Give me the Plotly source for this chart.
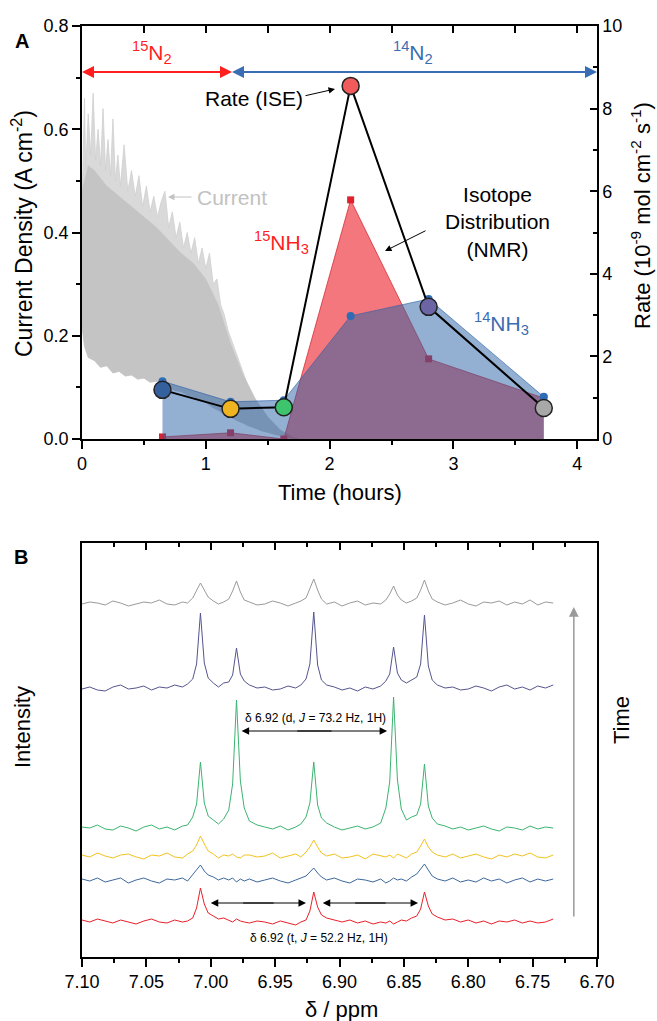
import plotly.graph_objects as go

W, H = 657, 1021
FONT = "Liberation Sans, Arial, Helvetica, sans-serif"

# ---------------- Panel A data ----------------
sample_time = [0.65, 1.20, 1.63, 2.17, 2.80, 3.73]          # hours
rate_ise = [1.19, 0.73, 0.77, 8.55, 3.20, 0.75]             # 1e-9 mol cm-2 s-1
rate_colors = ["#34619e", "#efb420", "#3ec46d", "#f25b5b", "#6b65a6", "#a8a8a8"]
nh3_14 = [1.40, 0.90, 0.94, 2.98, 3.39, 1.02]
nh3_15 = [0.05, 0.15, 0.00, 5.79, 1.94, 0.99]

# current density (A cm-2): spike envelope, dense body envelope, lower envelope
current_t_upper = [0.00, 0.02, 0.03, 0.05, 0.07, 0.09, 0.11, 0.13, 0.15, 0.17,
                   0.19, 0.21, 0.23, 0.25, 0.27, 0.29, 0.31, 0.34, 0.37, 0.40,
                   0.43, 0.46, 0.49, 0.52, 0.55, 0.58, 0.61, 0.64, 0.67, 0.70,
                   0.73, 0.76, 0.79, 0.82, 0.85, 0.88, 0.91, 0.94, 0.97, 1.00,
                   1.03, 1.06, 1.09, 1.12, 1.15, 1.18, 1.21, 1.24, 1.27, 1.30,
                   1.33, 1.36, 1.39, 1.42, 1.45, 1.48, 1.51, 1.54, 1.57, 1.60,
                   1.63, 1.66, 1.69, 1.72, 1.75]
current_upper = [0.45, 0.66, 0.52, 0.63, 0.55, 0.67, 0.54, 0.60, 0.53, 0.64,
                 0.52, 0.58, 0.51, 0.62, 0.50, 0.55, 0.49, 0.57, 0.48, 0.52,
                 0.47, 0.51, 0.45, 0.49, 0.44, 0.47, 0.43, 0.46, 0.48, 0.41,
                 0.44, 0.39, 0.42, 0.37, 0.40, 0.36, 0.39, 0.34, 0.37, 0.33,
                 0.36, 0.30, 0.31, 0.26, 0.24, 0.21, 0.19, 0.17, 0.15, 0.13,
                 0.11, 0.095, 0.08, 0.065, 0.055, 0.045, 0.038, 0.030, 0.022, 0.016,
                 0.011, 0.007, 0.004, 0.002, 0.0]
current_t_body = [0.00, 0.05, 0.10, 0.20, 0.30, 0.40, 0.50, 0.60, 0.70, 0.80,
                  0.90, 1.00, 1.10, 1.20, 1.30, 1.40, 1.50, 1.60, 1.70, 1.75]
current_body = [0.48, 0.53, 0.52, 0.49, 0.47, 0.45, 0.43, 0.41, 0.385, 0.36,
                0.34, 0.31, 0.26, 0.185, 0.125, 0.078, 0.043, 0.018, 0.004, 0.0]
current_t_lower = [1.75, 1.70, 1.65, 1.60, 1.55, 1.50, 1.45, 1.40, 1.35, 1.30,
                   1.25, 1.20, 1.15, 1.10, 1.05, 1.00, 0.95, 0.90, 0.85, 0.80,
                   0.75, 0.70, 0.65, 0.60, 0.55, 0.50, 0.45, 0.40, 0.35, 0.30,
                   0.25, 0.20, 0.15, 0.10, 0.05, 0.02, 0.00]
current_lower = [0.0, 0.002, 0.004, 0.007, 0.009, 0.013, 0.016, 0.021, 0.025, 0.031,
                 0.036, 0.043, 0.048, 0.056, 0.062, 0.071, 0.074, 0.082, 0.085, 0.092,
                 0.094, 0.101, 0.104, 0.112, 0.110, 0.118, 0.116, 0.124, 0.122, 0.131,
                 0.128, 0.142, 0.139, 0.152, 0.158, 0.180, 0.220]

# ---------------- Panel B data (intensity in arbitrary offset units) ----------------
ppm = [7.100, 7.094, 7.088, 7.082, 7.076, 7.070, 7.064, 7.058, 7.052, 7.046, 7.040, 7.034, 7.028, 7.022, 7.018,
       7.014, 7.011, 7.008, 7.005, 7.002,
       6.998, 6.994, 6.990,
       6.986, 6.983, 6.980, 6.977, 6.974,
       6.970, 6.964, 6.958, 6.952, 6.946, 6.940, 6.934, 6.930,
       6.926, 6.923, 6.920, 6.917, 6.914,
       6.910, 6.904, 6.898, 6.892, 6.886, 6.880, 6.874, 6.868,
       6.864, 6.861, 6.858, 6.855, 6.852,
       6.848, 6.844,
       6.840, 6.837, 6.834, 6.831, 6.828,
       6.824, 6.818, 6.812, 6.806, 6.800, 6.794, 6.788, 6.782, 6.776, 6.770, 6.764, 6.758, 6.752, 6.746, 6.740, 6.734]

spec_gray = [353, 355, 354, 352, 356, 354, 351, 353, 355, 354, 357, 353, 352, 355, 354,
             359, 366, 374, 367, 360,
             356, 353, 355,
             358, 366, 376, 365, 357,
             355, 352, 353, 356, 354, 351, 354, 356,
             359, 368, 378, 367, 358,
             353, 355, 351, 354, 356, 352, 354, 353,
             357, 363, 371, 362, 357,
             354, 356,
             359, 367, 377, 366, 358,
             355, 352, 354, 357, 353, 351, 355, 354, 356, 352, 355, 353, 357, 352, 355, 354]
spec_purple = [268, 270, 267, 266, 270, 272, 268, 269, 271, 267, 270, 269, 272, 270, 273,
               278, 293, 344, 294, 279,
               274, 270, 274,
               275, 282, 309, 283, 276,
               272, 269, 270, 267, 268, 271, 269, 272,
               278, 293, 345, 292, 277,
               272, 270, 267, 269, 266, 270, 268, 271,
               276, 283, 310, 284, 277,
               274, 277,
               280, 293, 342, 291, 277,
               272, 269, 270, 267, 268, 271, 269, 266, 270, 272, 268, 270, 267, 271, 269, 272]
spec_green = [130, 129, 132, 128, 127, 131, 129, 126, 130, 132, 128, 130, 127, 131, 132,
              140, 153, 195, 154, 141,
              137, 133, 138,
              147, 173, 257, 176, 149,
              136, 132, 130, 128, 131, 127, 130, 133,
              140, 154, 195, 152, 139,
              134, 130, 127, 129, 131, 128, 130, 134,
              149, 175, 260, 177, 148,
              137, 140,
              142, 153, 193, 151, 139,
              133, 131, 128, 130, 127, 129, 131, 128, 126, 130, 129, 127, 131, 128, 130, 129]
spec_yellow = [102, 100, 104, 101, 99, 102, 103, 100, 98, 102, 101, 104, 100, 99, 103,
               106, 112, 121, 113, 106,
               103, 99, 102,
               101, 103, 100, 99, 102,
               102, 100, 101, 104, 99, 101, 103, 100,
               105, 110, 117, 110, 104,
               101, 103, 99, 100, 102, 98, 103, 101,
               100, 102, 99, 103, 101,
               99, 103,
               105, 111, 118, 110, 105,
               102, 100, 103, 99, 101, 103, 100, 98, 102, 100, 103, 101, 104, 100, 99, 102]
spec_blue = [78, 76, 79, 75, 77, 79, 74, 77, 79, 76, 74, 78, 77, 79, 76,
             82, 87, 92, 86, 82,
             80, 77, 79,
             77, 79, 75, 78, 76,
             78, 75, 77, 79, 76, 74, 77, 79,
             81, 85, 89, 84, 80,
             77, 79, 76, 74, 78, 77, 75, 78,
             74, 76, 79, 77, 78,
             76, 80,
             83, 88, 93, 87, 81,
             78, 76, 79, 75, 77, 75, 79, 76, 78, 74, 77, 79, 75, 78, 76, 78]
spec_red = [37, 35, 38, 36, 34, 37, 35, 33, 36, 38, 35, 34, 37, 35, 36,
            39, 49, 69, 53, 44,
            41, 38, 39,
            37, 35, 38, 36, 35,
            34, 36, 35, 33, 36, 34, 32, 35,
            37, 46, 65, 50, 42,
            39, 37, 35, 37, 34, 36, 33, 35,
            34, 36, 33, 35, 37,
            36, 39,
            41, 48, 65, 51, 43,
            40, 37, 38, 35, 37, 34, 36, 33, 36, 35, 37, 34, 36, 34, 35, 38]
spectra = [(spec_gray, "#9a9a9a"), (spec_purple, "#55558f"), (spec_green, "#3cb371"),
           (spec_yellow, "#f2c21e"), (spec_blue, "#3d689e"), (spec_red, "#e8202a")]

fig = go.Figure()

# current density (left axis): light spikes, darker dense body
fig.add_trace(go.Scatter(x=current_t_upper + current_t_lower, y=current_upper + current_lower,
                         fill="toself", fillcolor="#d9d9d9", mode="lines",
                         line=dict(color="#cfcfcf", width=0.8),
                         xaxis="x", yaxis="y", hoverinfo="skip", showlegend=False))
fig.add_trace(go.Scatter(x=current_t_body + current_t_lower, y=current_body + current_lower,
                         fill="toself", fillcolor="#c4c4c4", mode="lines",
                         line=dict(color="#c4c4c4", width=0.5),
                         xaxis="x", yaxis="y", hoverinfo="skip", showlegend=False))
# 15NH3 area
fig.add_trace(go.Scatter(x=sample_time, y=nh3_15, fill="tozeroy",
                         fillcolor="rgba(235,35,45,0.62)", mode="lines+markers",
                         line=dict(color="rgba(210,30,40,0.7)", width=1),
                         marker=dict(symbol="square", size=7, color="#e0202c"),
                         xaxis="x", yaxis="y2", showlegend=False))
# 14NH3 area
fig.add_trace(go.Scatter(x=sample_time, y=nh3_14, fill="tozeroy",
                         fillcolor="rgba(40,95,165,0.5)", mode="lines+markers",
                         line=dict(color="rgba(40,95,165,0.6)", width=1),
                         marker=dict(symbol="circle", size=8, color="#2e6cb5"),
                         xaxis="x", yaxis="y2", showlegend=False))
# rate (ISE)
fig.add_trace(go.Scatter(x=sample_time, y=rate_ise, mode="lines+markers",
                         line=dict(color="black", width=2),
                         marker=dict(size=17, color=rate_colors, line=dict(color="#222222", width=1.5)),
                         xaxis="x", yaxis="y2", showlegend=False))

for vals, col in spectra:
    fig.add_trace(go.Scatter(x=ppm, y=vals, mode="lines", line=dict(color=col, width=1),
                             xaxis="x2", yaxis="y3", showlegend=False, hoverinfo="skip"))

# invisible carriers so the mirrored top axes are drawn
fig.add_trace(go.Scatter(x=sample_time, y=rate_ise, mode="markers", marker=dict(opacity=0),
                         xaxis="x3", yaxis="y", showlegend=False, hoverinfo="skip"))
fig.add_trace(go.Scatter(x=ppm, y=spec_red, mode="markers", marker=dict(opacity=0),
                         xaxis="x4", yaxis="y3", showlegend=False, hoverinfo="skip"))

xdom = [82 / W, 597 / W]
ax_common = dict(showline=True, linecolor="black", linewidth=1.5, showgrid=False, zeroline=False,
                 tickcolor="black", tickwidth=1.5, tickfont=dict(size=18, color="black", family=FONT))

fig.update_layout(
    width=W, height=H, margin=dict(l=0, r=0, t=0, b=0, autoexpand=False),
    paper_bgcolor="white", plot_bgcolor="white", font=dict(family=FONT, color="black"),
    xaxis=dict(domain=xdom, range=[0, 4.16], anchor="y", dtick=1, tick0=0, ticks="outside", ticklen=8,
               minor=dict(ticks="outside", ticklen=4, dtick=0.5, tickwidth=1.5, tickcolor="black"), **ax_common),
    xaxis3=dict(overlaying="x", anchor="y", side="top", range=[0, 4.16], dtick=1, tick0=0,
                ticks="inside", ticklen=7, showticklabels=False,
                minor=dict(ticks="inside", ticklen=7, dtick=0.5, tickwidth=1.5, tickcolor="black"), **ax_common),
    yaxis=dict(domain=[1 - 439 / H, 1 - 26 / H], range=[0, 0.8], anchor="x", dtick=0.2, tickformat=".1f",
               ticks="outside", ticklen=8,
               minor=dict(ticks="outside", ticklen=4, dtick=0.1, tickwidth=1.5, tickcolor="black"), **ax_common),
    yaxis2=dict(overlaying="y", anchor="x", side="right", range=[0, 10], dtick=2, ticks="inside", ticklen=7,
                minor=dict(ticks="inside", ticklen=4, dtick=1, tickwidth=1.5, tickcolor="black"), **ax_common),
    xaxis2=dict(domain=xdom, range=[7.10, 6.70], anchor="y3", dtick=0.05, tick0=6.70, tickformat=".2f",
                ticks="outside", ticklen=8,
                minor=dict(ticks="outside", ticklen=4, dtick=0.025, tickwidth=1.5, tickcolor="black"), **ax_common),
    xaxis4=dict(overlaying="x2", anchor="y3", side="top", range=[7.10, 6.70], dtick=0.05, tick0=6.70,
                ticks="inside", ticklen=7, showticklabels=False,
                minor=dict(ticks="inside", ticklen=4, dtick=0.025, tickwidth=1.5, tickcolor="black"), **ax_common),
    yaxis3=dict(domain=[1 - 957 / H, 1 - 543 / H], range=[0, 414], anchor="x2", ticks="",
                showticklabels=False, mirror=True, **ax_common),
)


def P(xp, yp):
    return dict(x=xp / W, y=1 - yp / H, xref="paper", yref="paper")


def txt(xp, yp, text, size=21, color="black", angle=0):
    d = P(xp, yp)
    d.update(text=text, showarrow=False, textangle=angle, xanchor="center", yanchor="middle",
             font=dict(size=size, color=color, family=FONT))
    return d


def arr(xp, yp, dx, dy, color="black", width=1, size=1.5):
    d = P(xp, yp)
    d.update(text="", showarrow=True, ax=dx, ay=dy, axref="pixel", ayref="pixel",
             arrowcolor=color, arrowwidth=width, arrowsize=size, arrowhead=2, standoff=0)
    return d


RED, BLUE = "#ff1f1f", "#3a6db3"
ann = [
    txt(22, 41, "<b>A</b>", size=20),
    txt(21, 557, "<b>B</b>", size=20),
    txt(22, 234, "Current Density (A cm<sup>-2</sup>)", angle=-90, size=23),
    txt(641, 216, "Rate (10<sup>-9</sup> mol cm<sup>-2</sup> s<sup>-1</sup>)", angle=-90, size=22),
    txt(340, 493, "Time (hours)", size=22),
    txt(22, 727, "Intensity", angle=-90, size=22),
    txt(621, 720, "Time", angle=-90, size=22),
    txt(341, 1009, "δ / ppm", size=22),
    txt(152, 52, "<sup>15</sup>N<sub>2</sub>", color=RED),
    txt(413, 52, "<sup>14</sup>N<sub>2</sub>", color=BLUE),
    arr(82, 72, 90, 0, color=RED, width=2, size=1.2),
    arr(232, 72, -90, 0, color=RED, width=2, size=1.2),
    arr(232, 72, 200, 0, color=BLUE, width=2, size=1.2),
    arr(597, 72, -200, 0, color=BLUE, width=2, size=1.2),
    txt(254, 99, "Rate (ISE)"),
    arr(335, 89, -31, 7, size=1.3),
    txt(232, 197, "Current", color="#c2c2c2"),
    arr(168, 197, 25, 0, color="#c2c2c2", size=1.3),
    txt(281, 242, "<sup>15</sup>NH<sub>3</sub>", color=RED),
    txt(497, 222, "Isotope<br>Distribution<br>(NMR)"),
    arr(385, 251, 42, -21, size=1.3),
    txt(501, 323, "<sup>14</sup>NH<sub>3</sub>", color=BLUE),
]


def btxt(x, y, text, size=12):
    return dict(x=x, y=y, xref="x2", yref="y3", text=text, showarrow=False,
                font=dict(size=size, color="black", family=FONT))


def barr(x, y, ax, ay, color="black", width=1, size=1.5):
    return dict(x=x, y=y, xref="x2", yref="y3", ax=ax, ay=ay, axref="x2", ayref="y3", text="",
                showarrow=True, arrowcolor=color, arrowwidth=width, arrowsize=size, arrowhead=2, standoff=0)


ann += [
    btxt(6.919, 239, "δ 6.92 (d, <i>J</i> = 73.2 Hz, 1H)"),
    barr(6.976, 226, 6.905, 226), barr(6.863, 226, 6.934, 226),
    btxt(6.916, 19, "δ 6.92 (t, <i>J</i> = 52.2 Hz, 1H)"),
    barr(7.000, 54, 6.950, 54), barr(6.926, 54, 6.976, 54),
    barr(6.913, 54, 6.863, 54), barr(6.839, 54, 6.889, 54),
    barr(6.718, 350, 6.718, 39, color="#9a9a9a", width=1.5, size=1.3),
]
fig.update_layout(annotations=ann)

fig.write_html("out.html", config={"displayModeBar": False},
               post_script="document.body.style.margin='0px';")
